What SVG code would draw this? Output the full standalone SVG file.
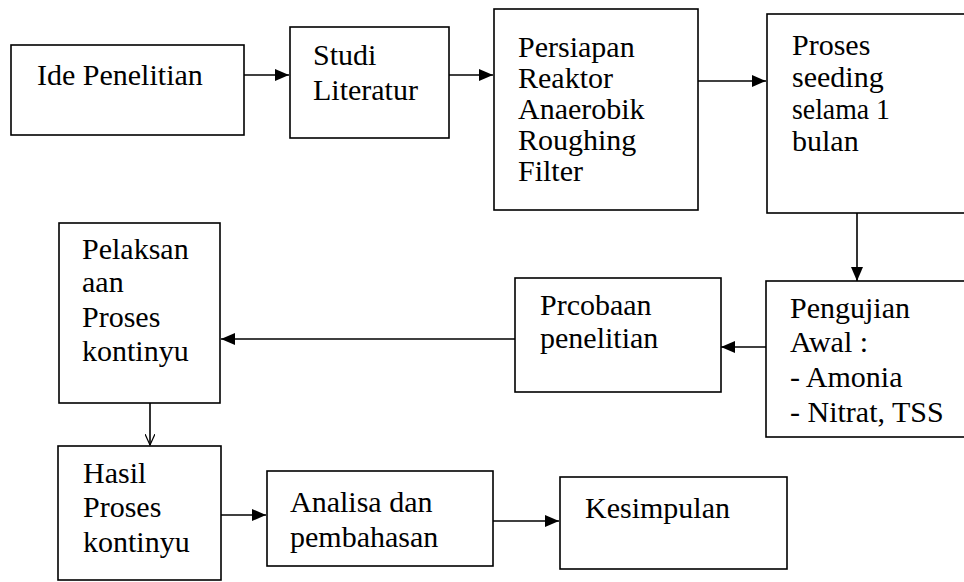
<svg xmlns="http://www.w3.org/2000/svg" width="964" height="582" viewBox="0 0 964 582">
<style>
.box{fill:#fff;stroke:#000;stroke-width:1.6}
.t{font-family:"Liberation Serif","Times New Roman",serif;font-size:30px;fill:#000}
.c{fill:none;stroke:#000;stroke-width:1.6}
</style>
<defs>
<marker id="ah" markerWidth="14" markerHeight="12" refX="14" refY="6" orient="auto" markerUnits="userSpaceOnUse"><path d="M0,0 L14,6 L0,12 Z" fill="#000"/></marker>
<marker id="av" markerWidth="12" markerHeight="10" refX="11" refY="5" orient="auto" markerUnits="userSpaceOnUse"><path d="M0,0 L11,5 L0,10" fill="none" stroke="#000" stroke-width="1.2"/></marker>
</defs>
<rect width="964" height="582" fill="#fff"/>
<g id="connectors">
<line class="c" x1="244" y1="75" x2="289" y2="75" marker-end="url(#ah)"/>
<line class="c" x1="449" y1="75" x2="493" y2="75" marker-end="url(#ah)"/>
<line class="c" x1="698" y1="81" x2="766" y2="81" marker-end="url(#ah)"/>
<line class="c" x1="857" y1="213" x2="857" y2="281" marker-end="url(#ah)"/>
<line class="c" x1="766" y1="347" x2="721" y2="347" marker-end="url(#ah)"/>
<line class="c" x1="515" y1="339" x2="221" y2="339" marker-end="url(#ah)"/>
<line class="c" x1="150" y1="403" x2="150" y2="445" marker-end="url(#av)"/>
<line class="c" x1="221" y1="515" x2="266" y2="515" marker-end="url(#ah)"/>
<line class="c" x1="493" y1="521" x2="559" y2="521" marker-end="url(#ah)"/>
</g>
<g id="n1"><rect class="box" x="11" y="45" width="233" height="90"/><text class="t" x="37" y="85">Ide Penelitian</text></g>
<g id="n2"><rect class="box" x="290" y="27" width="159" height="111"/><text class="t" x="313" y="65">Studi</text><text class="t" x="313" y="100">Literatur</text></g>
<g id="n3"><rect class="box" x="494" y="9" width="204" height="201"/><text class="t"><tspan x="518" y="57">Persiapan</tspan><tspan x="518" y="88">Reaktor</tspan><tspan x="518" y="119">Anaerobik</tspan><tspan x="518" y="150">Roughing</tspan><tspan x="518" y="181">Filter</tspan></text></g>
<g id="n4"><rect class="box" x="767" y="14" width="210" height="199"/><text class="t"><tspan x="792" y="55">Proses</tspan><tspan x="792" y="87">seeding</tspan><tspan x="792" y="119" textLength="98" lengthAdjust="spacingAndGlyphs">selama 1</tspan><tspan x="792" y="151">bulan</tspan></text></g>
<g id="n5"><rect class="box" x="766" y="281" width="210" height="156"/><text class="t"><tspan x="790" y="318">Pengujian</tspan><tspan x="790" y="352">Awal :</tspan><tspan x="790" y="387">- Amonia</tspan><tspan x="790" y="422">- Nitrat, TSS</tspan></text></g>
<g id="n6"><rect class="box" x="515" y="278" width="206" height="114"/><text class="t"><tspan x="540" y="315">Prcobaan</tspan><tspan x="540" y="348">penelitian</tspan></text></g>
<g id="n7"><rect class="box" x="59" y="223" width="161" height="180"/><text class="t"><tspan x="82" y="259">Pelaksan</tspan><tspan x="82" y="292">aan</tspan><tspan x="82" y="327">Proses</tspan><tspan x="82" y="361">kontinyu</tspan></text></g>
<g id="n8"><rect class="box" x="58" y="446" width="163" height="134"/><text class="t"><tspan x="83" y="483">Hasil</tspan><tspan x="83" y="517">Proses</tspan><tspan x="83" y="552">kontinyu</tspan></text></g>
<g id="n9"><rect class="box" x="267" y="471" width="226" height="95"/><text class="t"><tspan x="290" y="512">Analisa dan</tspan><tspan x="290" y="547">pembahasan</tspan></text></g>
<g id="n10"><rect class="box" x="560" y="477" width="227" height="92"/><text class="t" x="585" y="518">Kesimpulan</text></g>
</svg>
